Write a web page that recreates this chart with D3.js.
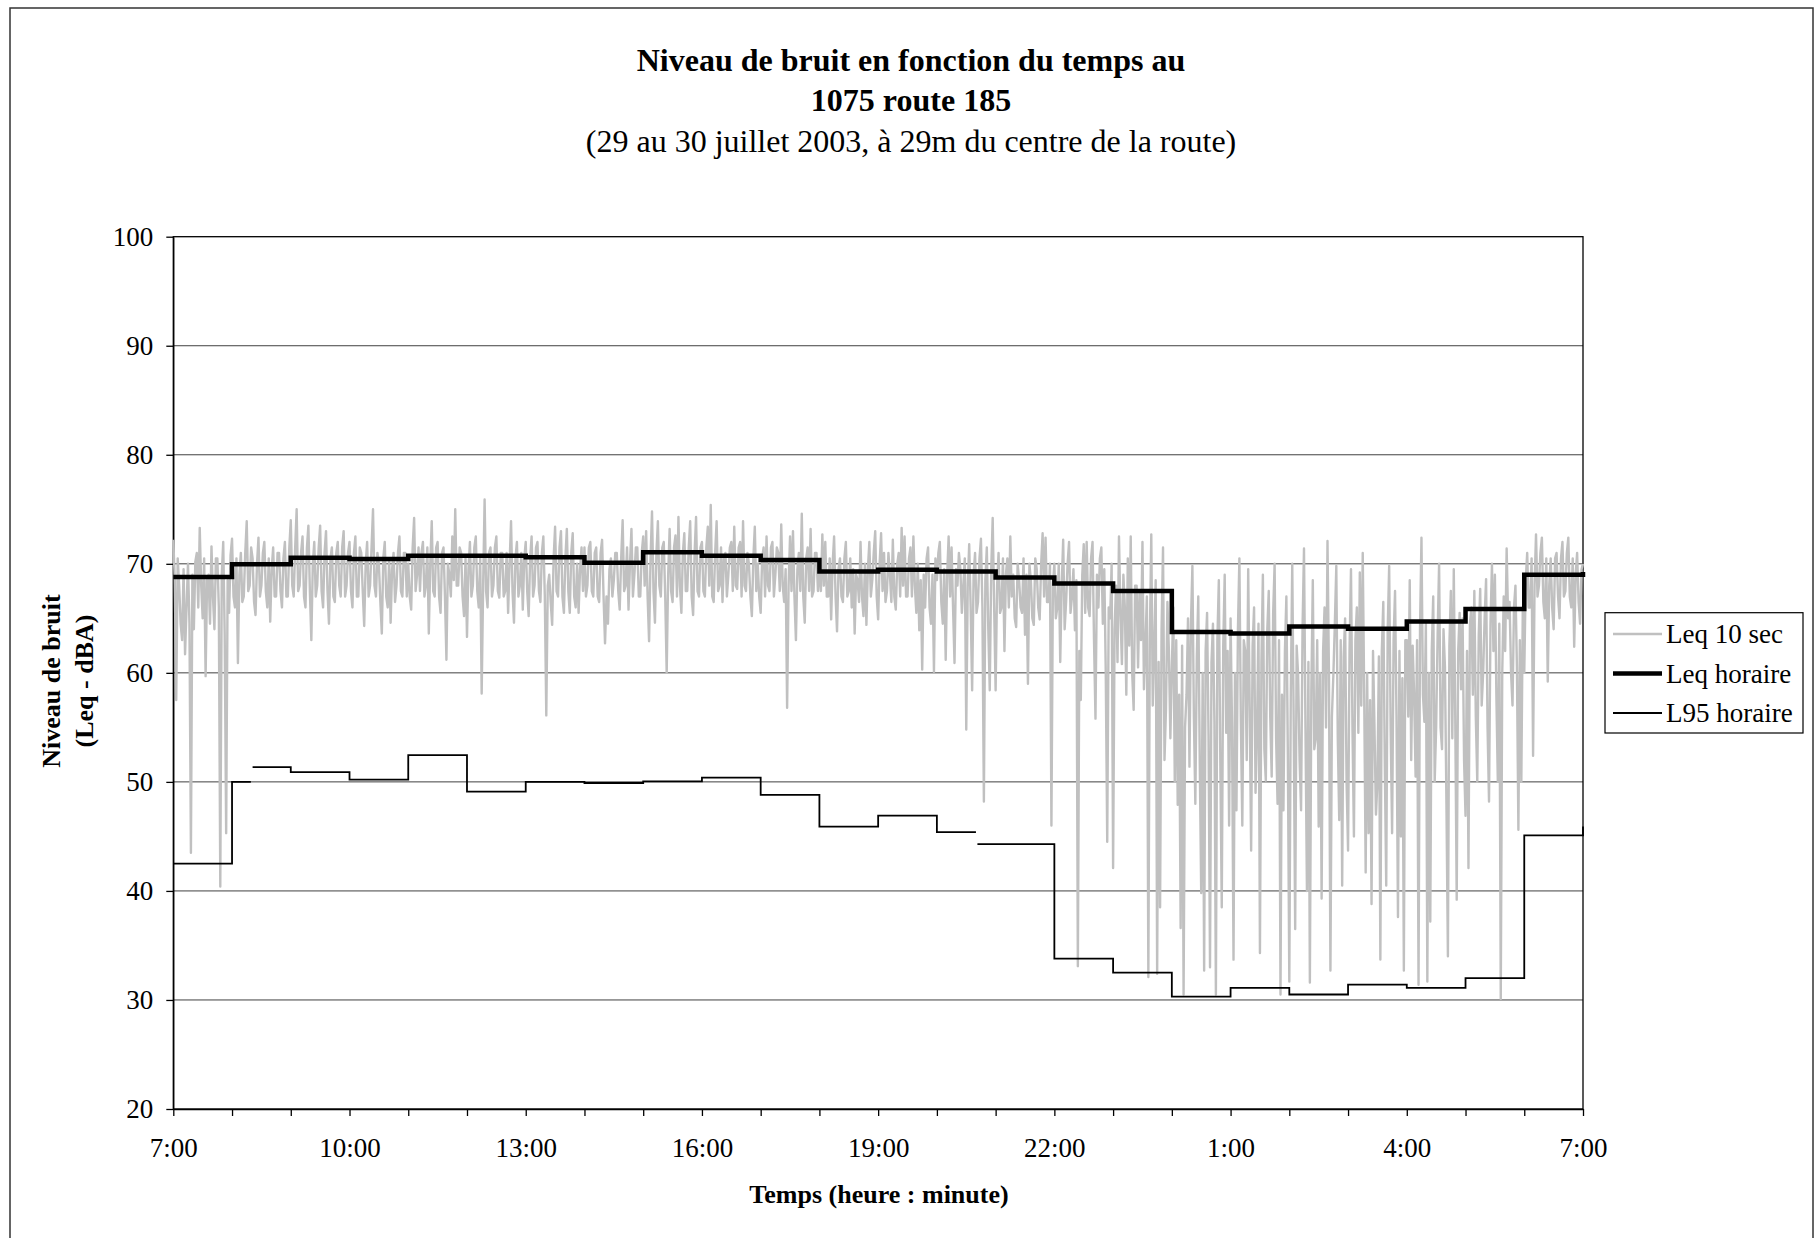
<!DOCTYPE html>
<html>
<head>
<meta charset="utf-8">
<script src="https://cdn.jsdelivr.net/npm/d3@7"></script>
<style>
  body { margin: 0; background: #fff; }
  text { font-family: "Liberation Serif", "Times New Roman", serif; fill: #000; }
</style>
</head>
<body>
<svg width="1818" height="1238"></svg>
<script>
// Tick labels
var xTickLabels = ["7:00", "10:00", "13:00", "16:00", "19:00", "22:00", "1:00", "4:00", "7:00"];
var yTicks = [20, 30, 40, 50, 60, 70, 80, 90, 100];

// Leq 10 sec, read every ~1.5 minutes (40 per hour), from 7:00
var leq10 = [
  72.2,68.5, 57.5,70.5, 68,64.5, 63,69.5, 61.7,66, 70,64.5, 43.5,69, 64,70.2, 71,66, 73.3,68, 65,70.5, 59.7,68.5, 69,64.5, 71.6,67, 64,70.5, 70.5,66, 40.4,69, 72,63.5, 45.3,68.5, 65.5,70.8, // 7h
  72.3,67, 66,70.5, 60.9,69, 71,66.5, 67,71, 73.9,67.5, 68,71.5, 70.5,66.5, 65.3,70, 72.4,67, 68,71, 72,67.5, 66,70.5, 64.7,69.5, 71.5,67, 67,71, 71,67.5, 66,70.5, 72,67, 67,71.5, // 8h
  74,68, 67,71.5, 75,67.5, 68,71, 72.5,67, 66,71.5, 73.5,67.5, 63,70, 72,67, 68,71.5, 73.5,67.5, 66,71, 73,67.5, 64.5,70.5, 71.5,67, 66.5,71, 72,68, 67,71.5, 73,67, 68,71, // 9h
  72,67.5, 66,71, 72.5,67, 67,71.5, 71,67.5, 64.3,70, 72,67, 68,71.5, 75,68, 67,71, 70,66.5, 63.6,70.5, 72,67, 66,70.5, 64.6,69.5, 71,66.5, 68,71, 72.5,67.5, 67,71, 71,67, // 10h
  70,67, 65.8,71.5, 74.2,67.5, 69,71.5, 67.5,71, 72,67, 68,71.5, 63.6,70, 73.9,67.5, 67,71.5, 72,67, 65.5,71, 71.5,67, 61.2,70, 69,67, 72.5,68.5, 75,68, 68,71.5, 71,67, 65.2,70.5, // 11h
  63.3,69.5, 72,67, 68,71.5, 72.5,67.5, 66,70.5, 58.1,68, 75.9,67.5, 66,71, 71.5,67, 68,71.5, 72.5,67.5, 66.9,71, 71,67, 67.5,71, 65.5,70, 73.9,67.5, 64.6,70.5, 72,67, 68,71, 65.8,70.5, // 12h
  72,67.5, 65.2,70.5, 72.5,67, 68,71.5, 72,67.5, 66.5,71, 72.5,67, 56.1,68, 69,66.5, 64.4,70.5, 73.4,67.5, 67,71.5, 73,67, 65.5,70.5, 73.2,67.5, 65.5,71, 72.8,67, 66,70, 65.5,69.5, 71.5,67.5, // 13h
  71.5,67, 68,71.5, 72,67.5, 67,71, 71.5,67, 66.5,71, 72.2,67, 62.7,67, 64.5,69.5, 70.5,67, 68.5,71, 71,67.5, 65.8,70.5, 74,67.5, 68,71.5, 65.8,70, 73.2,67, 69,71.5, 71.5,67, 67,71, // 14h
  72.5,68, 73,67, 62.9,70.5, 74.8,67.5, 64.6,71, 73.9,68, 67,71.5, 72,67, 60,69, 73.2,67.5, 66.5,71.5, 72.6,67, 74.3,68, 65.5,71, 72.8,67.5, 67.5,71.5, 73.9,67, 65.3,71, 74.3,67.5, 67,71.5, // 15h
  72,67.5, 67,71.5, 73.4,68, 75.4,67, 66.5,71, 73.9,67.5, 68,71.5, 66.5,70.5, 71,67, 69,71.5, 72,67.5, 73.4,68, 67.7,71.5, 72,67, 73.9,68, 67.5,71, 70,67, 65.2,70.5, 73.4,67.5, 70,67, // 16h
  65.5,70.5, 71.5,67, 72.5,68, 67.5,71.5, 72,67, 69,71.5, 71,67.5, 73.6,68, 66.5,69.5, 56.8,68, 72.5,67.5, 73,67, 63,69.5, 71,67.5, 74.6,67, 64.6,70.5, 71.5,67.5, 73.2,67, 67.5,71, 71,67.5, // 17h
  70,67.5, 72.7,68, 72,67, 67,70.5, 64.9,70, 72.5,67, 63.8,69.5, 70.5,67, 66.5,70.5, 72,67, 67.5,70.5, 66,69.5, 63.6,69, 68.5,66.5, 72,67, 65.2,70, 64.4,69.5, 72,67, 68.5,71, 73,67, // 18h
  64.9,70, 72.8,67.5, 71,66.5, 67.5,71, 69,66.5, 72.2,67, 65.8,70, 71,67, 73.3,68, 72.5,67, 67,70.5, 71.5,67, 72.5,68, 65.5,70, 63.9,68.5, 60.3,69, 66,70.5, 71.5,66, 64.5,69, 60.1,70.5, // 19h
  68.5,71, 72,66.5, 64.5,69.5, 61.2,69, 72.5,67, 71.5,66, 60.9,69.5, 68,71, 69.5,65.5, 68,70.5, 54.8,68, 71.8,66, 58.4,69, 71,65.5, 66.5,70.5, 72.3,66, 48.2,68.5, 71.5,64, 58.4,69.5, 74.2,66, // 20h
  58.4,68, 71,65.5, 66,70.5, 62,69, 70.5,66, 72.5,67, 69,65, 64.2,70, 68.5,66, 65.5,70.5, 63.5,69, 59,70, 68.5,65, 64.4,70.5, 69.5,66, 64.9,70, 72.8,67, 72.4,66.5, 66.5,70, 46,68, // 21h
  70,65, 66,70, 61,68, 72.2,64, 66.5,70, 72,65.5, 67,69.5, 63.9,68.5, 33.1,62, 57.5,69, 71.8,65.5, 72,66, 65.2,70.5, 72,63, 55.8,69, 66,70.5, 71.5,64.5, 69.5,60, 44.5,66, 65,70, // 22h
  42.1,64, 68,61, 72.5,65.5, 60.8,69, 66,58, 70.5,62.5, 72.5,60, 56.6,68, 68,60.5, 67.5,63, 72,58.5, 62.5,67, 32.1,63, 72.7,57, 62.5,68.5, 32.4,61, 38.5,64, 71.5,52, 56.6,66.5, 62,54, // 23h
  60.5,66, 50,63, 47.9,58, 36.6,62.5, 30.5,55, 58,65, 51.4,64.5, 69.8,56, 48,61.5, 67,52, 39.8,60, 32.7,62, 65.5,54, 33,61, 64.5,55.5, 30.5,63, 68.5,52, 38.5,62.5, 69,54.5, 62,46, // 0h
  65,55, 33.7,60, 47.4,64, 70.5,55.5, 46,63, 62,52, 69.5,57, 43.7,62.5, 66,49, 54.6,64.5, 34.3,61, 69,53, 50.1,64, 67.5,56, 50.5,65.5, 70,54, 48,63, 30.5,58, 47.4,62, 67,52.5, // 1h
  31.7,58, 70,55, 36.5,62.5, 59.8,52, 47.4,64, 71.4,55, 40,61, 31.6,58.5, 68.5,53, 54,63, 45.9,60, 39.3,62, 66,55, 72.1,60, 32.7,56, 59.8,64.5, 69.8,54, 46.5,63, 40.5,61.5, 65,50, // 2h
  43.7,62, 69.5,55, 45,63, 66,54.5, 69.2,57, 71,58, 41.7,60, 45.3,57.5, 38.8,62, 55,47, 50,61.5, 33.7,62, 66.5,52, 40.5,64, 69.8,55, 45.3,63, 67.5,56, 37.6,62, 45,59.5, 32.7,63, // 3h
  63,56, 68.5,52, 62.5,58, 50.5,63, 31.4,64, 72.4,58, 55.5,64.5, 31.7,60, 37.2,62, 67,50, 55,63.5, 70,55, 53,64, 60.5,48, 34,62.5, 67.5,54, 69.5,56, 39.2,62, 65.5,58.5, 65,52, // 4h
  46.9,62, 42.1,64.5, 66,58, 67.5,56, 50,63.5, 67.7,57, 60,65, 68.6,55, 48.2,64.5, 70,62, 69,58, 50,64.5, 30.1,60, 67,62, 71.4,65, 66.5,60, 57,66, 68,60.5, 45.6,63, 50,66, // 5h
  60,68.5, 71,66, 66,70.5, 52.4,68, 72.7,67, 68,71, 72.4,66.5, 65,70.5, 59.2,68, 70.5,66, 64,70.5, 71,67, 65,70.5, 72,67, 67.5,71, 72.4,67, 66,70.5, 62.4,69, 71,66.5, 64.5,69.5, // 6h
  70
];

// Leq horaire: one value per hour from 7:00, last one at 7:00 next day
var leqTimes = [0, 1, 2, 3, 4, 5, 6, 7, 8, 9, 10, 11, 12, 13, 14, 15, 16, 17, 18, 19, 20, 21, 22, 23, 24, 24];
var leqValues = [68.8, 69.95, 70.55, 70.45, 70.75, 70.75, 70.6, 70.1, 71.05, 70.75, 70.35, 69.3,
  69.45, 69.3, 68.75, 68.2, 67.5, 63.75, 63.6, 64.25, 64.05, 64.7, 65.85, 69.0, 69.25];

// L95 horaire (null = missing data)
var l95Times = [0, 1, 1.32, 1.35, 2, 3, 4, 5, 6, 7, 8, 9, 10, 11, 12, 13, 13.665, 13.69,
  15, 16, 17, 18, 19, 20, 21, 22, 23, 24, 24];
var l95Values = [42.5, 50.0, null, 51.35, 50.9, 50.2, 52.45, 49.1, 50.0, 49.9, 50.05, 50.4, 48.8,
  45.9, 46.9, 45.4, null, 44.3, 33.8, 32.5, 30.3, 31.1, 30.5, 31.4, 31.1, 32.0, 45.1, 45.9];

var seriesNames = ["Leq 10 sec", "Leq horaire", "L95 horaire"];

var svg = d3.select("svg");

var x = d3.scaleLinear().domain([0, 24]).range([173.3, 1583]);
var y = d3.scaleLinear().domain([20, 100]).range([1109, 236.7]);

// Chart frame
svg.append("rect")
  .attr("x", 10).attr("y", 8)
  .attr("width", 1803).attr("height", 1270)
  .attr("fill", "none")
  .attr("stroke", "#333")
  .attr("stroke-width", 1.5);

// Grid
svg.append("g")
  .selectAll("line")
  .data(yTicks.filter(function (d) { return d > 20 && d < 100; }))
  .enter()
  .append("line")
  .attr("x1", x(0)).attr("x2", x(24))
  .attr("y1", function (d) { return y(d); })
  .attr("y2", function (d) { return y(d); })
  .attr("stroke", "#404040")
  .attr("stroke-width", 1);

// Plot border
svg.append("rect")
  .attr("x", x(0)).attr("y", y(100))
  .attr("width", x(24) - x(0)).attr("height", y(20) - y(100))
  .attr("fill", "none")
  .attr("stroke", "#000")
  .attr("stroke-width", 1.3);

// Axes
var yAxis = svg.append("g")
  .attr("transform", "translate(" + x(0) + ",0)")
  .call(d3.axisLeft(y).tickValues(yTicks).tickSize(7).tickSizeOuter(0).tickPadding(13));

var xAxis = svg.append("g")
  .attr("transform", "translate(0," + y(20) + ")")
  .call(d3.axisBottom(x).tickValues(d3.range(0, 25)).tickSize(7).tickSizeOuter(0).tickPadding(21.5)
    .tickFormat(function (d) { return d % 3 === 0 ? xTickLabels[d / 3] : ""; }));

[yAxis, xAxis].forEach(function (g) {
  g.attr("font-family", null).attr("font-size", null);
  g.selectAll("text").style("font-size", "27px");
  g.selectAll("line, path").attr("stroke", "#000").attr("stroke-width", 1.3);
});
yAxis.selectAll("text").attr("dy", "0.33em");

// Lines
var line = d3.line()
  .defined(function (d) { return d.v != null; })
  .x(function (d) { return x(d.t); })
  .y(function (d) { return y(d.v); });

function steps(times, values) {
  var pts = [];
  values.forEach(function (v, i) {
    if (v == null) { pts.push({ t: times[i], v: null }); return; }
    pts.push({ t: times[i], v: v }, { t: times[i + 1], v: v });
  });
  return pts;
}

svg.append("path")
  .datum(leq10.map(function (v, i) { return { t: i / 40, v: v }; }))
  .attr("d", line)
  .attr("fill", "none")
  .attr("stroke", "#c0c0c0")
  .attr("stroke-width", 2.4)
  .attr("stroke-linejoin", "round");

svg.append("path")
  .datum(steps(leqTimes, leqValues))
  .attr("d", line)
  .attr("fill", "none")
  .attr("stroke", "#000")
  .attr("stroke-width", 4.5);

svg.append("path")
  .datum(steps(l95Times, l95Values))
  .attr("d", line)
  .attr("fill", "none")
  .attr("stroke", "#000")
  .attr("stroke-width", 1.8);

// Titles
var title = svg.append("text")
  .attr("text-anchor", "middle")
  .style("font-size", "32px");
title.append("tspan").attr("x", 911).attr("y", 71).style("font-weight", "bold")
  .text("Niveau de bruit en fonction du temps au");
title.append("tspan").attr("x", 911).attr("y", 111).style("font-weight", "bold")
  .text("1075 route 185");
title.append("tspan").attr("x", 911).attr("y", 151.5)
  .text("(29 au 30 juillet 2003, à 29m du centre de la route)");

svg.append("text")
  .attr("x", 879).attr("y", 1203)
  .attr("text-anchor", "middle")
  .style("font-size", "26px").style("font-weight", "bold")
  .text("Temps (heure : minute)");

var yTitle = svg.append("text")
  .attr("transform", "translate(0,681) rotate(-90)")
  .attr("text-anchor", "middle")
  .style("font-size", "26px").style("font-weight", "bold");
yTitle.append("tspan").attr("x", 0).attr("y", 60).text("Niveau de bruit");
yTitle.append("tspan").attr("x", 0).attr("y", 93).text("(Leq - dBA)");

// Legend
var legend = svg.append("g").attr("transform", "translate(1605,612.7)");
legend.append("rect")
  .attr("width", 198).attr("height", 120.3)
  .attr("fill", "#fff").attr("stroke", "#000").attr("stroke-width", 1.2);
var legendStyles = [
  { color: "#c0c0c0", width: 2.5 },
  { color: "#000", width: 4.5 },
  { color: "#000", width: 1.8 }
];
var rows = legend.selectAll("g.row")
  .data(seriesNames)
  .enter()
  .append("g")
  .attr("class", "row")
  .attr("transform", function (d, i) { return "translate(0," + (21.3 + i * 39.5) + ")"; });
rows.append("line")
  .attr("x1", 8).attr("x2", 57)
  .attr("stroke", function (d, i) { return legendStyles[i].color; })
  .attr("stroke-width", function (d, i) { return legendStyles[i].width; });
rows.append("text")
  .attr("x", 61).attr("y", 9)
  .style("font-size", "27px")
  .text(function (d) { return d; });
</script>
</body>
</html>
